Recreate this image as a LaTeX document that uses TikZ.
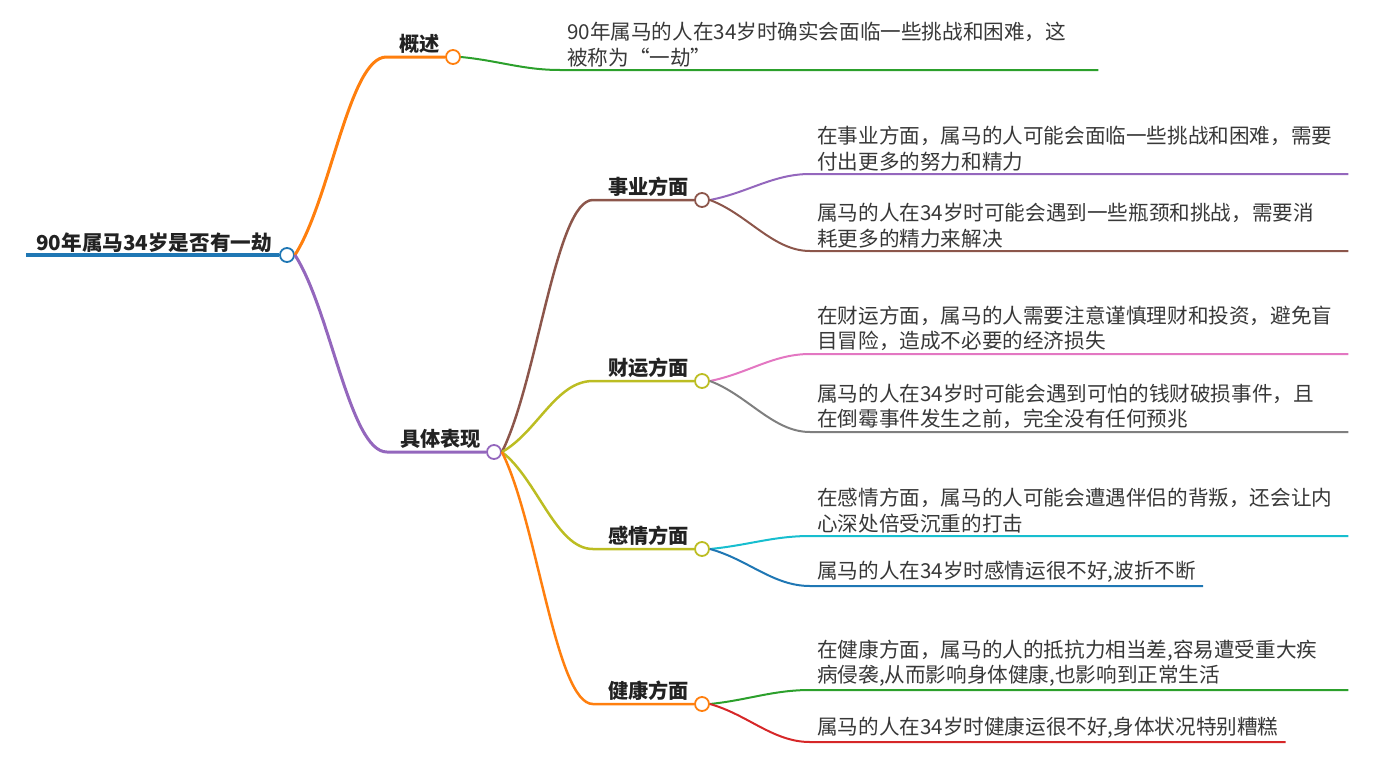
\documentclass[tikz,border=0pt]{standalone}
\usepackage{fontspec}
\setmainfont{Noto Sans CJK SC}
\usetikzlibrary{positioning,calc}
\definecolor{tblue}{HTML}{1F77B4}
\definecolor{torange}{HTML}{FF7F0E}
\definecolor{tgreen}{HTML}{2CA02C}
\definecolor{tred}{HTML}{D62728}
\definecolor{tpurple}{HTML}{9467BD}
\definecolor{tbrown}{HTML}{8C564B}
\definecolor{tpink}{HTML}{E377C2}
\definecolor{tgray}{HTML}{7F7F7F}
\definecolor{tolive}{HTML}{BCBD22}
\definecolor{tcyan}{HTML}{17BECF}
\definecolor{ink}{HTML}{222222}
\definecolor{ink2}{HTML}{383838}
\tikzset{
  knot/.style={circle, draw=#1, line width=1.8pt, fill=white, minimum size=14pt, inner sep=0pt},
  headline/.style={font=\fontsize{20.6pt}{25pt}\selectfont\bfseries, text=ink,
    inner xsep=10pt, inner ysep=4.5pt, text depth=0pt},
  topic/.style={font=\fontsize{20.2pt}{24pt}\selectfont\bfseries, text=ink,
    inner xsep=13pt, inner ysep=5pt, text depth=0pt},
  leaf/.style={font=\fontsize{20.6pt}{25.5pt}\selectfont, text=ink2,
    inner xsep=7pt, inner ysep=3pt, align=left, anchor=south west},
  wide/.style={text width=524pt},
  link/.style={draw=#1, line width=3pt},
  twig/.style={draw=#1, line width=2pt},
  curl/.style={to path={.. controls ($(\tikztostart)!0.28!(\tikztotarget)+(10pt,0)$)
    and ($(\tikztotarget)+(-37pt,0)$) .. (\tikztotarget)}},
}

\begin{document}
\begin{tikzpicture}[x=1pt, y=-1pt]
  \tikzset{facet/.style={topic, inner xsep=15pt}}
  \useasboundingbox (0,0) rectangle (1386,763);
  % 中心
  \node[knot=tblue] (root) at (287,255) {};
  \node[headline, above left=0pt and -3pt of root.west] (main) {90年属马34岁是否有一劫};
  \draw[link=tblue, line width=4pt] (main.south west) -- (root.west);
  % 一级
  \node[knot=torange] (gs) at (453,57) {};
  \node[topic, above left=0pt and -8pt of gs.west] (gst) {概述};
  \draw[link=torange] (root.east) to[curl] (gst.south west) -- (gs.west);
  \node[knot=tpurple] (bx) at (494,452) {};
  \node[topic, above left=0pt and -8pt of bx.west] (bxt) {具体表现};
  \draw[link=tpurple] (root.east) to[curl] (bxt.south west) -- (bx.west);
  % 二级
  \node[knot=tbrown] (sy) at (702,200) {};
  \node[facet, above left=0pt and -10pt of sy.west] (syt) {事业方面};
  \draw[link=tbrown, line width=2.5pt] (bx.east) to[curl] (syt.south west) -- (sy.west);
  \node[knot=tolive] (cy) at (702,381) {};
  \node[facet, above left=0pt and -10pt of cy.west] (cyt) {财运方面};
  \draw[link=tolive, line width=2.5pt] (bx.east) to[curl] (cyt.south west) -- (cy.west);
  \node[knot=tolive] (gq) at (702,549) {};
  \node[facet, above left=0pt and -10pt of gq.west] (gqt) {感情方面};
  \draw[link=tolive, line width=2.5pt] (bx.east) to[curl] (gqt.south west) -- (gq.west);
  \node[knot=torange] (jk) at (702,704) {};
  \node[facet, above left=0pt and -10pt of jk.west] (jkt) {健康方面};
  \draw[link=torange, line width=2.5pt] (bx.east) to[curl] (jkt.south west) -- (jk.west);
  % 叶子
  \node[leaf, wide] (gs1) at (560,70) {90年属马的人在34岁时确实会面临一些挑战和困难，这\\被称为“一劫”};
  \draw[twig=tgreen] (gs.east) to[curl] (gs1.south west) -- (gs1.south east);
  \node[leaf, wide] (sy1) at (810,174) {在事业方面，属马的人可能会面临一些挑战和困难，需要\\付出更多的努力和精力};
  \draw[twig=tpurple] (sy.east) to[curl] (sy1.south west) -- (sy1.south east);
  \node[leaf, wide] (sy2) at (810,251) {属马的人在34岁时可能会遇到一些瓶颈和挑战，需要消\\耗更多的精力来解决};
  \draw[twig=tbrown] (sy.east) to[curl] (sy2.south west) -- (sy2.south east);
  \node[leaf, wide] (cy1) at (810,354) {在财运方面，属马的人需要注意谨慎理财和投资，避免盲\\目冒险，造成不必要的经济损失};
  \draw[twig=tpink] (cy.east) to[curl] (cy1.south west) -- (cy1.south east);
  \node[leaf, wide] (cy2) at (810,432) {属马的人在34岁时可能会遇到可怕的钱财破损事件，且\\在倒霉事件发生之前，完全没有任何预兆};
  \draw[twig=tgray] (cy.east) to[curl] (cy2.south west) -- (cy2.south east);
  \node[leaf, wide] (gq1) at (810,536) {在感情方面，属马的人可能会遭遇伴侣的背叛，还会让内\\心深处倍受沉重的打击};
  \draw[twig=tcyan] (gq.east) to[curl] (gq1.south west) -- (gq1.south east);
  \node[leaf] (gq2) at (810,586) {属马的人在34岁时感情运很不好,波折不断};
  \draw[twig=tblue] (gq.east) to[curl] (gq2.south west) -- (gq2.south east);
  \node[leaf, wide] (jk1) at (810,690) {在健康方面，属马的人的抵抗力相当差,容易遭受重大疾\\病侵袭,从而影响身体健康,也影响到正常生活};
  \draw[twig=tgreen] (jk.east) to[curl] (jk1.south west) -- (jk1.south east);
  \node[leaf] (jk2) at (810,742) {属马的人在34岁时健康运很不好,身体状况特别糟糕};
  \draw[twig=tred] (jk.east) to[curl] (jk2.south west) -- (jk2.south east);
\end{tikzpicture}
\end{document}
